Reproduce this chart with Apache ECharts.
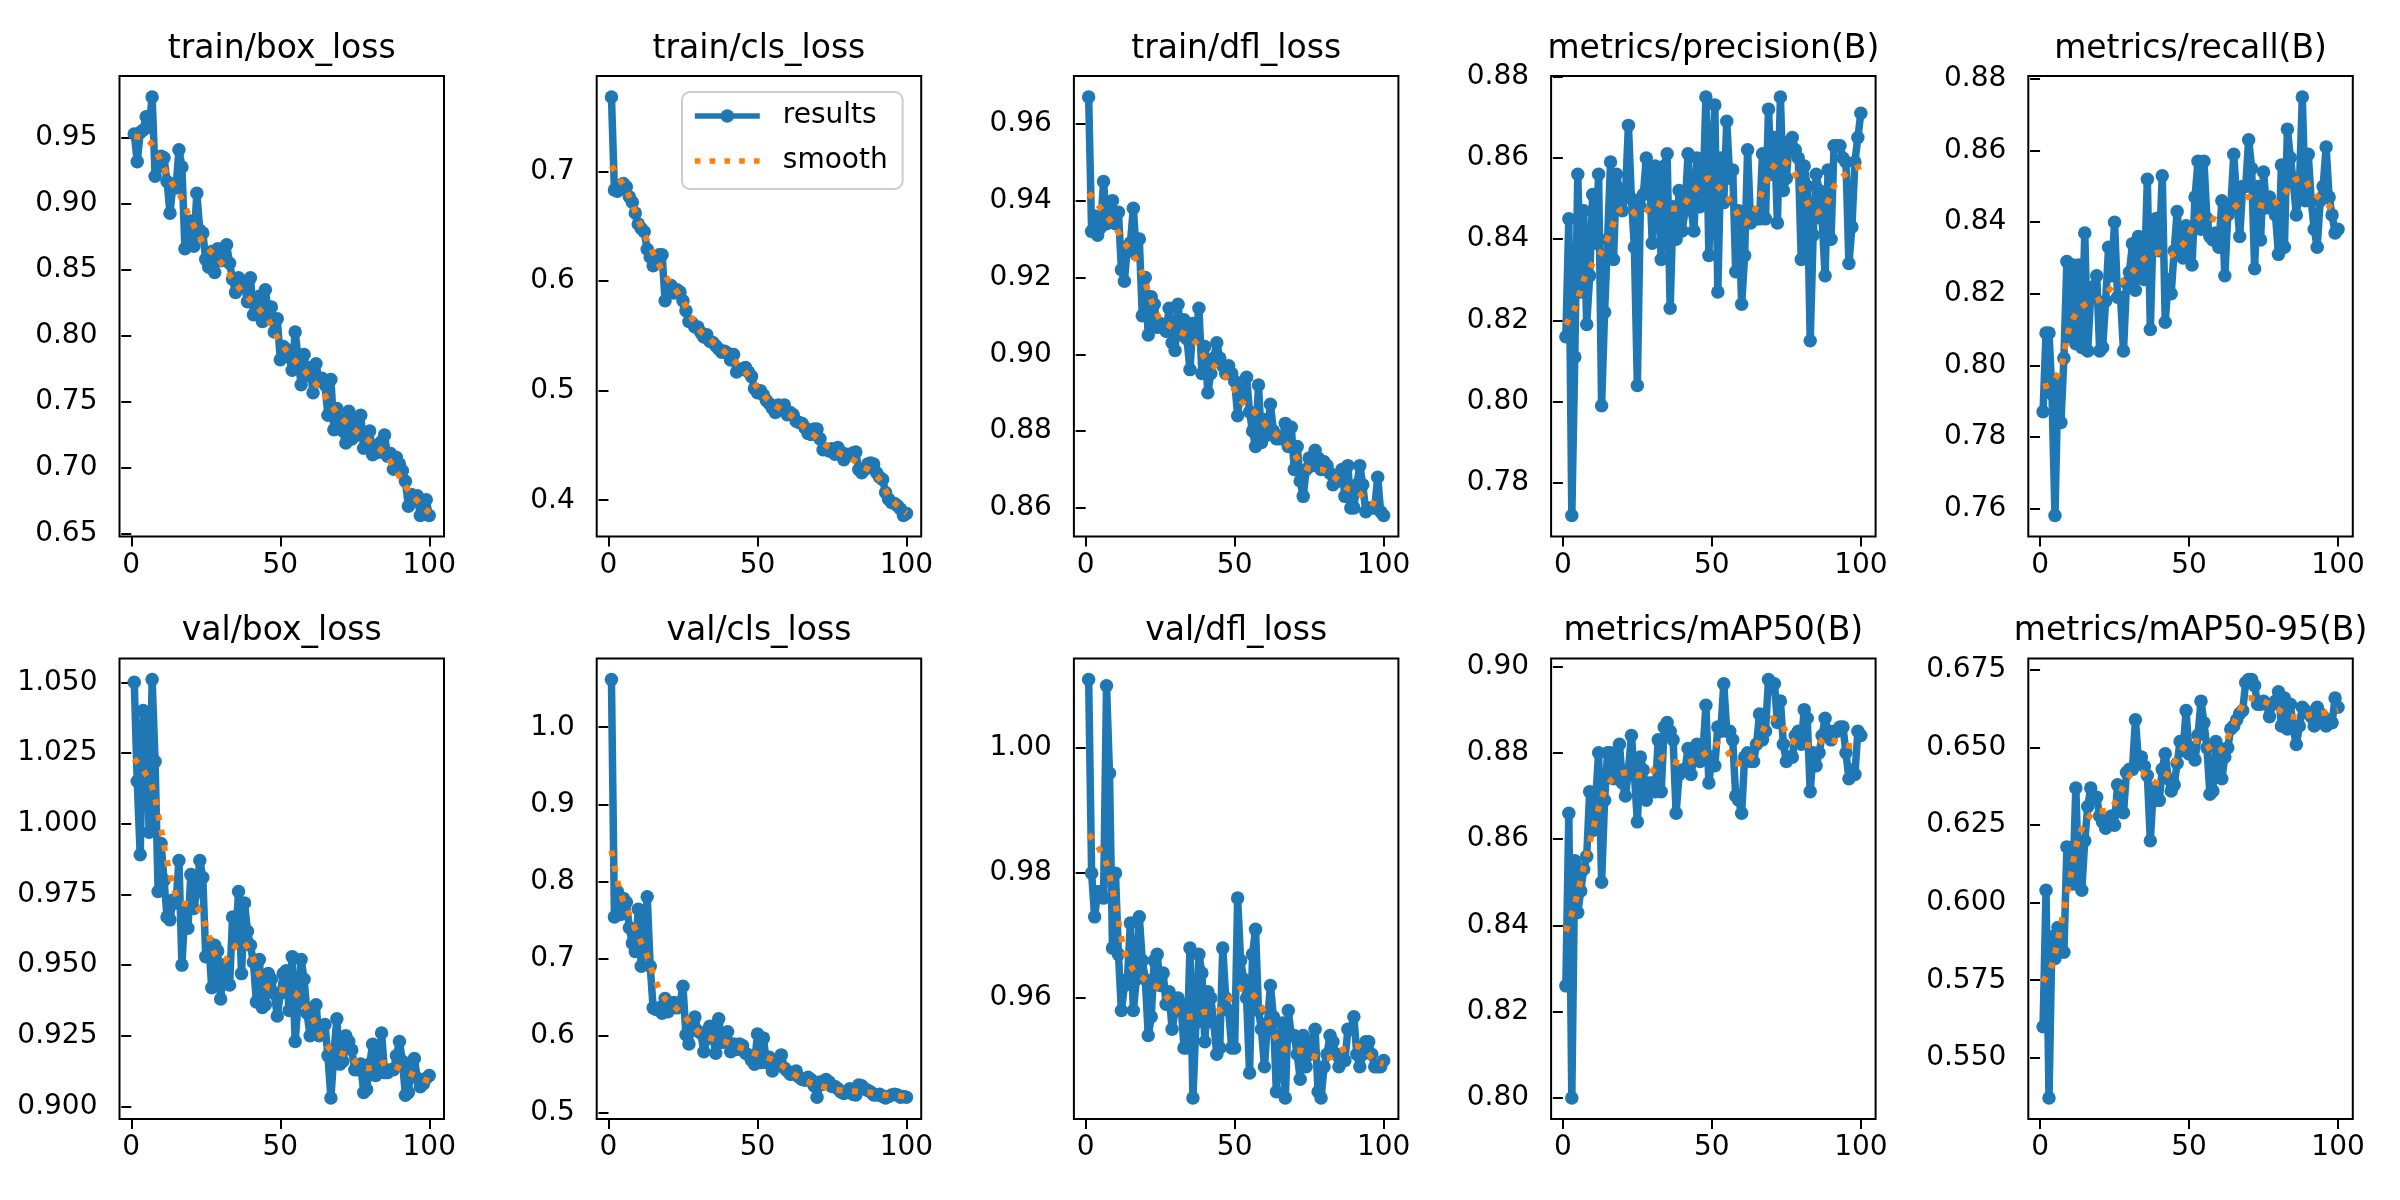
<!DOCTYPE html>
<html>
<head>
<meta charset="utf-8">
<title>results</title>
<script src="https://cdn.jsdelivr.net/npm/echarts/dist/echarts.min.js"></script>
<style>
  html, body { margin: 0; padding: 0; background: #fff; }
  #chart { width: 2400px; height: 1200px; }
</style>
</head>
<body>
<div id="chart"></div>
<script>
// epoch index 1..100
const EPOCHS = Array.from({ length: 100 }, (_, i) => i + 1)
// epochs at which the smooth curve was read
const SMOOTH_X = [1,4,7,10,13,16,19,22,25,28,31,34,37,40,43,46,49,52,55,58,61,64,67,70,73,76,79,82,85,88,91,94,97,100]

const TRAIN_BOX = [
  0.953,0.932,0.954,0.956,0.966,0.958,0.981,0.921,0.928,0.936,
  0.935,0.917,0.893,0.915,0.912,0.941,0.928,0.866,0.875,0.887,
  0.868,0.908,0.880,0.878,0.858,0.852,0.864,0.848,0.866,0.857,
  0.862,0.869,0.855,0.843,0.833,0.844,0.840,0.838,0.826,0.844,
  0.816,0.822,0.830,0.811,0.835,0.817,0.822,0.803,0.813,0.782,
  0.792,0.790,0.784,0.774,0.803,0.783,0.763,0.786,0.770,0.776,
  0.757,0.779,0.766,0.768,0.763,0.740,0.767,0.729,0.745,0.737,
  0.728,0.719,0.743,0.722,0.735,0.725,0.740,0.715,0.722,0.728,
  0.710,0.717,0.712,0.720,0.725,0.709,0.711,0.699,0.708,0.703,
  0.698,0.690,0.671,0.680,0.675,0.679,0.664,0.672,0.676,0.664]
const TRAIN_BOX_SM = [0.951,0.950,0.945,0.932,0.918,0.908,0.893,0.879,0.868,0.861,0.853,0.843,0.834,0.827,0.820,0.812,0.799,0.789,0.781,0.774,0.766,0.758,0.748,0.739,0.733,0.727,0.722,0.717,0.711,0.701,0.690,0.680,0.673,0.666]

const TRAIN_CLS = [
  0.768,0.683,0.682,0.684,0.689,0.686,0.677,0.672,0.662,0.652,
  0.648,0.645,0.629,0.622,0.614,0.617,0.624,0.624,0.582,0.591,
  0.596,0.589,0.592,0.590,0.582,0.573,0.563,0.562,0.558,0.558,
  0.553,0.549,0.551,0.545,0.544,0.541,0.538,0.535,0.536,0.534,
  0.528,0.533,0.517,0.519,0.520,0.521,0.517,0.513,0.502,0.498,
  0.500,0.496,0.491,0.488,0.484,0.480,0.487,0.482,0.487,0.478,
  0.480,0.478,0.472,0.471,0.470,0.466,0.461,0.460,0.465,0.465,
  0.456,0.446,0.447,0.445,0.447,0.442,0.448,0.444,0.437,0.442,
  0.441,0.443,0.444,0.428,0.425,0.428,0.433,0.434,0.433,0.425,
  0.421,0.419,0.407,0.401,0.398,0.397,0.395,0.392,0.386,0.388]
const TRAIN_CLS_SM = [0.705,0.692,0.677,0.656,0.637,0.620,0.605,0.594,0.582,0.566,0.554,0.547,0.540,0.533,0.525,0.517,0.506,0.496,0.488,0.483,0.478,0.471,0.464,0.457,0.450,0.445,0.441,0.437,0.431,0.427,0.419,0.404,0.395,0.388]

const TRAIN_DFL = [
  0.967,0.932,0.936,0.931,0.933,0.945,0.934,0.937,0.940,0.934,
  0.937,0.922,0.919,0.928,0.929,0.938,0.926,0.930,0.910,0.920,
  0.905,0.915,0.913,0.907,0.908,0.907,0.906,0.912,0.903,0.901,
  0.913,0.905,0.909,0.904,0.896,0.908,0.905,0.912,0.895,0.902,
  0.890,0.895,0.899,0.903,0.899,0.897,0.895,0.897,0.895,0.893,
  0.884,0.891,0.889,0.894,0.885,0.880,0.876,0.892,0.877,0.883,
  0.879,0.887,0.880,0.878,0.878,0.878,0.882,0.876,0.881,0.870,
  0.876,0.867,0.863,0.870,0.873,0.871,0.875,0.873,0.870,0.872,
  0.871,0.869,0.866,0.867,0.867,0.870,0.863,0.871,0.860,0.860,
  0.866,0.871,0.866,0.859,0.860,0.860,0.860,0.868,0.859,0.858]
const TRAIN_DFL_SM = [0.942,0.939,0.936,0.933,0.929,0.926,0.921,0.914,0.909,0.9075,0.906,0.905,0.903,0.899,0.897,0.895,0.892,0.888,0.886,0.884,0.881,0.879,0.877,0.874,0.871,0.870,0.870,0.869,0.867,0.865,0.8645,0.862,0.861,0.860]

const PRECISION = [
  0.816,0.845,0.772,0.811,0.856,0.827,0.847,0.819,0.831,0.851,
  0.839,0.856,0.799,0.822,0.840,0.859,0.835,0.856,0.852,0.847,
  0.851,0.868,0.850,0.838,0.804,0.848,0.851,0.860,0.857,0.839,
  0.858,0.855,0.835,0.858,0.861,0.823,0.848,0.840,0.852,0.842,
  0.847,0.861,0.848,0.842,0.860,0.848,0.850,0.875,0.836,0.858,
  0.873,0.827,0.860,0.849,0.869,0.855,0.857,0.832,0.847,0.824,
  0.836,0.862,0.844,0.845,0.845,0.845,0.861,0.845,0.872,0.856,
  0.865,0.844,0.875,0.852,0.855,0.864,0.865,0.862,0.860,0.835,
  0.858,0.853,0.815,0.841,0.856,0.852,0.845,0.831,0.857,0.840,
  0.863,0.863,0.863,0.860,0.859,0.834,0.843,0.859,0.865,0.871]
const PRECISION_SM = [0.819,0.823,0.830,0.834,0.837,0.842,0.847,0.8475,0.846,0.847,0.849,0.848,0.8475,0.848,0.851,0.8535,0.855,0.853,0.8505,0.847,0.844,0.8465,0.852,0.857,0.8595,0.858,0.8545,0.849,0.8465,0.848,0.853,0.8555,0.857,0.858]

const RECALL = [
  0.787,0.809,0.809,0.792,0.758,0.795,0.784,0.802,0.829,0.808,
  0.828,0.806,0.828,0.805,0.837,0.804,0.820,0.822,0.825,0.804,
  0.805,0.818,0.833,0.825,0.840,0.819,0.819,0.804,0.823,0.826,
  0.834,0.821,0.836,0.827,0.824,0.852,0.810,0.840,0.841,0.832,
  0.853,0.812,0.824,0.820,0.832,0.843,0.832,0.830,0.839,0.838,
  0.828,0.847,0.857,0.838,0.857,0.841,0.836,0.835,0.837,0.833,
  0.846,0.825,0.842,0.844,0.859,0.846,0.836,0.850,0.850,0.863,
  0.855,0.827,0.850,0.835,0.854,0.844,0.847,0.844,0.842,0.831,
  0.856,0.833,0.866,0.858,0.851,0.842,0.849,0.875,0.846,0.859,
  0.846,0.838,0.833,0.846,0.850,0.861,0.847,0.842,0.837,0.838]
const RECALL_SM = [0.794,0.795,0.7995,0.811,0.8155,0.8175,0.818,0.820,0.8225,0.8235,0.826,0.829,0.831,0.8315,0.8305,0.832,0.835,0.840,0.842,0.841,0.840,0.843,0.8455,0.847,0.845,0.8445,0.8455,0.848,0.8515,0.8525,0.849,0.8465,0.8445,0.842]

const VAL_BOX = [
  1.050,1.015,0.989,1.040,1.039,0.997,1.051,1.022,0.976,0.993,
  0.980,0.967,0.966,0.973,0.972,0.987,0.950,0.970,0.963,0.982,
  0.970,0.976,0.987,0.981,0.953,0.958,0.942,0.957,0.955,0.938,
  0.950,0.946,0.943,0.967,0.958,0.976,0.947,0.972,0.962,0.957,
  0.951,0.937,0.952,0.935,0.936,0.947,0.945,0.940,0.932,0.940,
  0.947,0.948,0.934,0.953,0.923,0.937,0.952,0.945,0.933,0.925,
  0.929,0.936,0.925,0.926,0.929,0.918,0.903,0.919,0.931,0.915,
  0.916,0.925,0.923,0.920,0.913,0.913,0.915,0.905,0.906,0.915,
  0.922,0.911,0.914,0.926,0.912,0.912,0.913,0.913,0.918,0.923,
  0.916,0.904,0.905,0.915,0.917,0.910,0.907,0.908,0.910,0.911]
const VAL_BOX_SM = [1.023,1.019,1.013,0.998,0.982,0.9725,0.9715,0.9705,0.964,0.954,0.9515,0.9555,0.9585,0.9545,0.9465,0.942,0.9415,0.941,0.940,0.936,0.931,0.924,0.920,0.919,0.918,0.915,0.9135,0.914,0.9155,0.9145,0.913,0.9115,0.910,0.909]

const VAL_CLS = [
  1.062,0.754,0.787,0.757,0.778,0.773,0.740,0.720,0.709,0.764,
  0.690,0.721,0.780,0.690,0.636,0.634,0.636,0.629,0.648,0.631,
  0.641,0.643,0.636,0.642,0.664,0.601,0.589,0.615,0.624,0.606,
  0.603,0.579,0.596,0.612,0.598,0.577,0.622,0.591,0.598,0.605,
  0.579,0.589,0.582,0.589,0.587,0.577,0.575,0.568,0.563,0.602,
  0.565,0.597,0.565,0.572,0.554,0.563,0.568,0.575,0.558,0.554,
  0.550,0.550,0.554,0.546,0.543,0.542,0.546,0.543,0.535,0.520,
  0.540,0.537,0.543,0.540,0.534,0.534,0.531,0.527,0.525,0.527,
  0.531,0.524,0.523,0.536,0.535,0.531,0.529,0.527,0.523,0.523,
  0.524,0.521,0.519,0.521,0.523,0.524,0.523,0.520,0.521,0.520]
const VAL_CLS_SM = [0.840,0.785,0.757,0.729,0.703,0.669,0.648,0.638,0.627,0.614,0.602,0.597,0.594,0.591,0.586,0.582,0.577,0.573,0.569,0.562,0.553,0.546,0.540,0.536,0.533,0.530,0.529,0.528,0.527,0.526,0.524,0.5225,0.522,0.521]

const VAL_DFL = [
  1.011,0.980,0.973,0.977,0.977,0.976,1.010,0.996,0.968,0.980,
  0.967,0.958,0.962,0.963,0.972,0.958,0.963,0.973,0.966,0.963,
  0.954,0.957,0.966,0.967,0.962,0.964,0.959,0.961,0.955,0.958,
  0.960,0.959,0.952,0.952,0.968,0.944,0.956,0.967,0.964,0.953,
  0.961,0.960,0.956,0.951,0.952,0.968,0.960,0.958,0.952,0.952,
  0.976,0.966,0.963,0.960,0.948,0.967,0.971,0.958,0.955,0.949,
  0.956,0.962,0.957,0.945,0.952,0.956,0.944,0.958,0.954,0.954,
  0.951,0.947,0.954,0.949,0.951,0.953,0.955,0.945,0.944,0.949,
  0.951,0.954,0.953,0.951,0.949,0.951,0.950,0.955,0.955,0.957,
  0.951,0.949,0.951,0.953,0.953,0.951,0.949,0.949,0.949,0.950]
const VAL_DFL_SM = [0.9862,0.9843,0.9815,0.975,0.9675,0.9645,0.9633,0.9622,0.9615,0.9597,0.9578,0.957,0.9572,0.9578,0.9577,0.9585,0.9605,0.9615,0.961,0.9595,0.9565,0.9535,0.9518,0.9517,0.9515,0.9508,0.9504,0.9505,0.9515,0.952,0.9523,0.9515,0.950,0.9495]

const MAP50 = [
  0.826,0.866,0.800,0.855,0.843,0.848,0.853,0.856,0.871,0.862,
  0.869,0.880,0.850,0.869,0.880,0.880,0.874,0.880,0.882,0.873,
  0.870,0.876,0.884,0.875,0.864,0.879,0.876,0.869,0.873,0.873,
  0.871,0.883,0.871,0.886,0.887,0.885,0.883,0.866,0.875,0.876,
  0.876,0.881,0.875,0.879,0.882,0.878,0.880,0.891,0.873,0.879,
  0.877,0.886,0.885,0.896,0.885,0.885,0.883,0.870,0.869,0.866,
  0.879,0.880,0.878,0.878,0.882,0.889,0.883,0.885,0.897,0.896,
  0.896,0.887,0.892,0.882,0.878,0.879,0.879,0.884,0.885,0.882,
  0.890,0.888,0.871,0.880,0.877,0.880,0.884,0.888,0.885,0.883,
  0.885,0.885,0.886,0.886,0.880,0.874,0.876,0.875,0.885,0.884]
const MAP50_SM = [0.8386,0.845,0.8535,0.862,0.8695,0.8735,0.875,0.8755,0.8748,0.8748,0.8765,0.879,0.878,0.8775,0.878,0.879,0.8805,0.882,0.8805,0.8775,0.8775,0.880,0.885,0.888,0.887,0.8835,0.882,0.8818,0.8815,0.8835,0.8828,0.882,0.8815,0.8815]

const MAP50_95 = [
  0.560,0.604,0.537,0.589,0.582,0.592,0.588,0.584,0.618,0.613,
  0.606,0.637,0.606,0.604,0.620,0.631,0.637,0.634,0.634,0.628,
  0.626,0.624,0.626,0.628,0.625,0.638,0.634,0.629,0.642,0.643,
  0.643,0.659,0.646,0.647,0.644,0.641,0.620,0.637,0.633,0.633,
  0.643,0.648,0.640,0.636,0.638,0.645,0.652,0.649,0.662,0.648,
  0.650,0.646,0.654,0.665,0.658,0.650,0.635,0.636,0.652,0.650,
  0.640,0.647,0.650,0.656,0.657,0.659,0.661,0.662,0.671,0.672,
  0.672,0.670,0.664,0.664,0.665,0.664,0.660,0.664,0.665,0.668,
  0.657,0.666,0.656,0.664,0.656,0.651,0.657,0.663,0.662,0.661,
  0.660,0.657,0.663,0.661,0.660,0.657,0.658,0.658,0.666,0.663]
const MAP50_95_SM = [0.5745,0.580,0.593,0.6075,0.6215,0.627,0.6298,0.6295,0.632,0.6375,0.6418,0.642,0.6395,0.6385,0.642,0.6467,0.651,0.6522,0.652,0.6485,0.6495,0.6555,0.662,0.666,0.6655,0.6645,0.663,0.661,0.660,0.660,0.6607,0.661,0.6615,0.662]

// tick labels of each panel
const X_TICKS = [0, 50, 100]
const TICKS_TRAIN_BOX = [0.65, 0.70, 0.75, 0.80, 0.85, 0.90, 0.95]
const TICKS_TRAIN_CLS = [0.4, 0.5, 0.6, 0.7]
const TICKS_TRAIN_DFL = [0.86, 0.88, 0.90, 0.92, 0.94, 0.96]
const TICKS_PRECISION = [0.78, 0.80, 0.82, 0.84, 0.86, 0.88]
const TICKS_RECALL = [0.76, 0.78, 0.80, 0.82, 0.84, 0.86, 0.88]
const TICKS_VAL_BOX = [0.900, 0.925, 0.950, 0.975, 1.000, 1.025, 1.050]
const TICKS_VAL_CLS = [0.5, 0.6, 0.7, 0.8, 0.9, 1.0]
const TICKS_VAL_DFL = [0.96, 0.98, 1.00]
const TICKS_MAP50 = [0.80, 0.82, 0.84, 0.86, 0.88, 0.90]
const TICKS_MAP50_95 = [0.550, 0.575, 0.600, 0.625, 0.650, 0.675]

const panels = [
  { title: 'train/box_loss', data: TRAIN_BOX, smooth: TRAIN_BOX_SM, ticks: TICKS_TRAIN_BOX, dec: 2 },
  { title: 'train/cls_loss', data: TRAIN_CLS, smooth: TRAIN_CLS_SM, ticks: TICKS_TRAIN_CLS, dec: 1 },
  { title: 'train/dfl_loss', data: TRAIN_DFL, smooth: TRAIN_DFL_SM, ticks: TICKS_TRAIN_DFL, dec: 2 },
  { title: 'metrics/precision(B)', data: PRECISION, smooth: PRECISION_SM, ticks: TICKS_PRECISION, dec: 2 },
  { title: 'metrics/recall(B)', data: RECALL, smooth: RECALL_SM, ticks: TICKS_RECALL, dec: 2 },
  { title: 'val/box_loss', data: VAL_BOX, smooth: VAL_BOX_SM, ticks: TICKS_VAL_BOX, dec: 3 },
  { title: 'val/cls_loss', data: VAL_CLS, smooth: VAL_CLS_SM, ticks: TICKS_VAL_CLS, dec: 1 },
  { title: 'val/dfl_loss', data: VAL_DFL, smooth: VAL_DFL_SM, ticks: TICKS_VAL_DFL, dec: 2 },
  { title: 'metrics/mAP50(B)', data: MAP50, smooth: MAP50_SM, ticks: TICKS_MAP50, dec: 2 },
  { title: 'metrics/mAP50-95(B)', data: MAP50_95, smooth: MAP50_95_SM, ticks: TICKS_MAP50_95, dec: 3 }
]

// layout (px)
const COL_LEFT = [119.5, 596.7, 1073.9, 1551.1, 2028.3]
const ROW_TOP = [76, 658.5]
const W = 324.5
const H = 460.5
const FONT = 'DejaVu Sans'
const BLUE = '#1f77b4'
const ORANGE = '#ff7f0e'
const LEGEND_LINE_W = 5.6
const RESULTS_LINE_W = 7.5
const SMOOTH_LINE_W = 6

// matplotlib style 5% margins
const padMin = v => v.min - 0.05 * (v.max - v.min)
const padMax = v => v.max + 0.05 * (v.max - v.min)

const grids = [], xAxes = [], yAxes = [], series = [], titles = []
panels.forEach((p, i) => {
  const left = COL_LEFT[i % 5]
  const top = ROW_TOP[Math.floor(i / 5)]
  grids.push({ left: left, top: top, width: W, height: H, show: true, borderColor: '#000', borderWidth: 2, containLabel: false })
  xAxes.push({
    type: 'value', gridIndex: i, min: padMin, max: padMax,
    splitLine: { show: false }, axisLine: { show: false },
    axisTick: { show: true, length: 10, lineStyle: { color: '#000', width: 2 }, customValues: X_TICKS },
    axisLabel: { customValues: X_TICKS, fontSize: 28, fontFamily: FONT, color: '#000', margin: 15, lineHeight: 28 }
  })
  yAxes.push({
    type: 'value', gridIndex: i, min: padMin, max: padMax,
    splitLine: { show: false }, axisLine: { show: false },
    axisTick: { show: true, length: 10, lineStyle: { color: '#000', width: 2 }, customValues: p.ticks },
    axisLabel: { customValues: p.ticks, fontSize: 28, fontFamily: FONT, color: '#000', margin: 22,
      formatter: v => Number(v).toFixed(p.dec) }
  })
  series.push({
    name: 'results', type: 'line', xAxisIndex: i, yAxisIndex: i,
    data: EPOCHS.map((e, k) => [e, p.data[k]]),
    symbol: 'circle', symbolSize: 13.5, showSymbol: true,
    lineStyle: { color: BLUE, width: RESULTS_LINE_W, join: 'round' },
    itemStyle: { color: BLUE, borderWidth: 0 },
    emphasis: { disabled: true },
    z: 2
  })
  series.push({
    name: 'smooth', type: 'line', xAxisIndex: i, yAxisIndex: i,
    data: SMOOTH_X.map((e, k) => [e, p.smooth[k]]),
    symbol: 'none', smooth: 0.3,
    lineStyle: { color: ORANGE, width: SMOOTH_LINE_W, type: [6, 9.5], cap: 'butt' },
    itemStyle: { color: ORANGE },
    emphasis: { disabled: true },
    z: 3
  })
  titles.push({
    type: 'text', x: left + W / 2, y: top - 27,
    style: { text: p.title, fill: '#000', font: '33px "DejaVu Sans"',
      textAlign: 'center', textVerticalAlign: 'middle', align: 'center', verticalAlign: 'middle' }
  })
})

const chart = echarts.init(document.getElementById('chart'), null, { renderer: 'canvas' })
chart.setOption({
  animation: false,
  backgroundColor: '#fff',
  grid: grids,
  xAxis: xAxes,
  yAxis: yAxes,
  series: series,
  graphic: titles,
  legend: {
    data: [
      { name: 'results' },
      { name: 'smooth', itemStyle: { opacity: 0 }, lineStyle: { type: [5.6, 9.2] } }
    ],
    orient: 'vertical',
    left: 682, top: 92,
    itemWidth: 65, itemHeight: 17, itemGap: 13,
    padding: [8, 15, 12, 10],
    borderColor: '#cccccc', borderWidth: 2, borderRadius: 8,
    backgroundColor: 'rgba(255,255,255,0.8)',
    lineStyle: { width: LEGEND_LINE_W },
    textStyle: { fontSize: 28, fontFamily: FONT, color: '#000', lineHeight: 32, padding: [0, 0, 0, 18] },
    selectedMode: false
  }
})
</script>
</body>
</html>
